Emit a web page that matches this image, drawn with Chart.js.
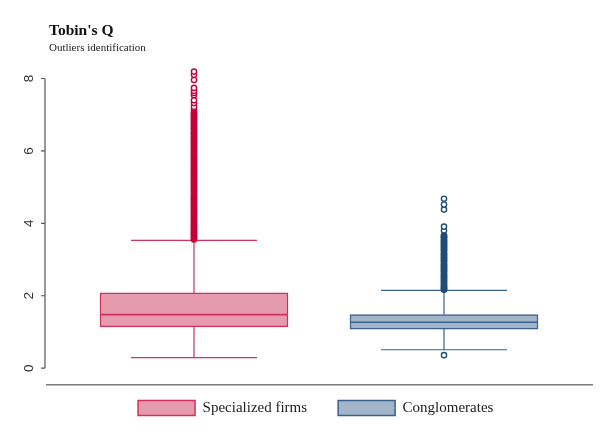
<!DOCTYPE html>
<html>
<head>
<meta charset="utf-8">
<script src="https://cdn.jsdelivr.net/npm/chart.js@4.4.1/dist/chart.umd.min.js"></script>
<style>
  html, body { margin: 0; padding: 0; background: #fff; }
  #wrap { position: relative; width: 607px; height: 443px; }
  #chart { position: absolute; left: 0; top: 0; }
  .title { position: absolute; left: 49px; top: 22px; font: bold 15.5px/15px "Liberation Serif", serif; color: #111; white-space: nowrap; }
  .subtitle { position: absolute; left: 49px; top: 42px; font: 11px/11px "Liberation Serif", serif; color: #222; white-space: nowrap; }
</style>
</head>
<body>
<div id="wrap">
  <canvas id="chart" width="607" height="443"></canvas>
  <div class="title">Tobin's Q</div>
  <div class="subtitle">Outliers identification</div>
</div>
<script>
// box plot summary
var CATEGORIES = ['Specialized firms', 'Conglomerates'];
var CATEGORY_X = [1, 2];
var Q1 = [1.14, 1.08];
var MEDIAN = [1.48, 1.27];
var Q3 = [2.08, 1.48];
var WHISKER_LOW = [0.29, 0.51];
var WHISKER_HIGH = [3.53, 2.15];
var Y_TICKS = [0, 2, 4, 6, 8];

// outliers: the packed run (drawn filled) and the loose ones (drawn hollow)
var OUTLIERS_DENSE = [
  [3.56, 3.62, 3.69, 3.75, 3.83, 3.9, 3.97, 4.05, 4.12, 4.2, 4.28, 4.35, 4.43, 4.5, 4.58,
   4.66, 4.73, 4.81, 4.9, 4.97, 5.05, 5.13, 5.2, 5.28, 5.36, 5.43, 5.51, 5.6, 5.67, 5.75,
   5.82, 5.9, 5.98, 6.05, 6.13, 6.21, 6.28, 6.36, 6.44, 6.51, 6.6, 6.67, 6.75, 6.83, 6.9,
   6.98, 7.05],
  [2.17, 2.23, 2.3, 2.37, 2.44, 2.51, 2.58, 2.66, 2.73, 2.8, 2.87, 2.95, 3.02, 3.09, 3.16,
   3.24, 3.31, 3.38, 3.45, 3.52, 3.6, 3.66]
];
var OUTLIERS_LOOSE = [
  [7.13, 7.22, 7.32, 7.4, 7.54, 7.6, 7.66, 7.74, 7.96, 8.1, 8.19],
  [0.36, 3.8, 3.91, 4.38, 4.52, 4.68]
];

// styles
var FILL = ['#e69aad', '#a3b5c9'];
var BORDER = ['#d0325d', '#3a628c'];
var POINT = ['#c4003b', '#1e4d7a'];
var BOX_PX = 188;
var CAP_PX = 126;
var AXIS_COLOR = '#555';

var datasets = [];
CATEGORIES.forEach(function(name, i) {
  datasets.push({
    type: 'bar',
    label: name,
    data: [{ x: CATEGORY_X[i], y: [Q1[i], Q3[i]] }],
    backgroundColor: FILL[i],
    borderColor: BORDER[i],
    borderWidth: 1.5,
    borderSkipped: false,
    barThickness: BOX_PX,
    grouped: false,
    order: 2
  });
});
CATEGORIES.forEach(function(name, i) {
  datasets.push({
    type: 'scatter',
    label: name + ' outliers',
    data: OUTLIERS_DENSE[i].map(function(v) { return { x: CATEGORY_X[i], y: v }; }),
    pointRadius: 2.8,
    pointBorderWidth: 1.4,
    pointBorderColor: POINT[i],
    pointBackgroundColor: POINT[i],
    order: 0
  });
  datasets.push({
    type: 'scatter',
    label: name + ' outliers ',
    data: OUTLIERS_LOOSE[i].map(function(v) { return { x: CATEGORY_X[i], y: v }; }),
    pointRadius: 2.6,
    pointBorderWidth: 1.4,
    pointBorderColor: POINT[i],
    pointBackgroundColor: '#fff',
    order: 0
  });
});

/** whiskers, caps and medians, placed through the chart scales */
var boxParts = {
  id: 'boxParts',
  beforeDatasetsDraw: function(chart) {
    var ctx = chart.ctx, xs = chart.scales.x, ys = chart.scales.y;
    ctx.save();
    CATEGORIES.forEach(function(name, i) {
      var cx = xs.getPixelForValue(CATEGORY_X[i]);
      ctx.strokeStyle = BORDER[i];
      ctx.lineWidth = 1.2;
      ctx.beginPath();
      ctx.moveTo(cx, ys.getPixelForValue(Q3[i]));
      ctx.lineTo(cx, ys.getPixelForValue(WHISKER_HIGH[i]));
      ctx.moveTo(cx, ys.getPixelForValue(Q1[i]));
      ctx.lineTo(cx, ys.getPixelForValue(WHISKER_LOW[i]));
      [WHISKER_HIGH[i], WHISKER_LOW[i]].forEach(function(v) {
        var py = ys.getPixelForValue(v);
        ctx.moveTo(cx - CAP_PX / 2, py);
        ctx.lineTo(cx + CAP_PX / 2, py);
      });
      ctx.stroke();
    });
    ctx.restore();
  },
  afterDatasetsDraw: function(chart) {
    var ctx = chart.ctx, ys = chart.scales.y;
    ctx.save();
    CATEGORIES.forEach(function(name, i) {
      var bar = chart.getDatasetMeta(i).data[0];
      var py = ys.getPixelForValue(MEDIAN[i]);
      ctx.strokeStyle = BORDER[i];
      ctx.lineWidth = 1.6;
      ctx.beginPath();
      ctx.moveTo(bar.x - bar.width / 2, py);
      ctx.lineTo(bar.x + bar.width / 2, py);
      ctx.stroke();
    });
    ctx.restore();
  }
};

/** stata-like y axis: line only over the tick range, labels turned upright */
var yAxisDraw = {
  id: 'yAxisDraw',
  afterDraw: function(chart) {
    var ctx = chart.ctx, ys = chart.scales.y;
    var ax = chart.chartArea.left - 2;
    ctx.save();
    ctx.strokeStyle = AXIS_COLOR;
    ctx.lineWidth = 1.2;
    ctx.beginPath();
    ctx.moveTo(ax, ys.getPixelForValue(Y_TICKS[0]));
    ctx.lineTo(ax, ys.getPixelForValue(Y_TICKS[Y_TICKS.length - 1]));
    Y_TICKS.forEach(function(v) {
      var py = ys.getPixelForValue(v);
      ctx.moveTo(ax - 4, py);
      ctx.lineTo(ax, py);
    });
    ctx.stroke();
    ctx.fillStyle = '#333';
    ctx.font = '13.5px "Liberation Sans", sans-serif';
    ctx.textAlign = 'center';
    ctx.textBaseline = 'middle';
    Y_TICKS.forEach(function(v) {
      ctx.save();
      ctx.translate(ax - 16, ys.getPixelForValue(v));
      ctx.rotate(-Math.PI / 2);
      ctx.fillText(String(v), 0, 0);
      ctx.restore();
    });
    ctx.restore();
  }
};

new Chart(document.getElementById('chart').getContext('2d'), {
  type: 'bar',
  data: { datasets: datasets },
  options: {
    responsive: false,
    animation: false,
    devicePixelRatio: 1,
    layout: { padding: { top: 64, right: 15, bottom: 17.5, left: 0 } },
    scales: {
      x: {
        type: 'linear',
        offset: false,
        min: 0.412,
        max: 2.592,
        grid: { display: false },
        ticks: { display: false },
        border: { display: true, color: '#7a7a7a', width: 1.6 },
        afterFit: function(scale) { scale.height = 0; }
      },
      y: {
        type: 'linear',
        min: -0.45,
        max: 8.4,
        grid: { display: false },
        ticks: { display: false },
        border: { display: false },
        afterBuildTicks: function(scale) {
          scale.ticks = Y_TICKS.map(function(v) { return { value: v }; });
        },
        afterFit: function(scale) { scale.width = 47; }
      }
    },
    plugins: {
      tooltip: { enabled: false },
      legend: {
        position: 'bottom',
        fullSize: false,
        labels: {
          boxWidth: 57,
          boxHeight: 15,
          padding: 16,
          color: '#222',
          font: { family: '"Liberation Serif", serif', size: 15 },
          filter: function(item) { return item.datasetIndex < CATEGORIES.length; },
          generateLabels: function(chart) {
            var items = Chart.defaults.plugins.legend.labels.generateLabels(chart);
            // widen the gap after the first entry and nudge the row left, as in the picture
            items.forEach(function(it) {
              if (it.datasetIndex === 0) it.text = it.text + '\u2003';
              else it.text = it.text + '\u2002';
            });
            return items;
          }
        }
      }
    }
  },
  plugins: [boxParts, yAxisDraw]
});
</script>
</body>
</html>
